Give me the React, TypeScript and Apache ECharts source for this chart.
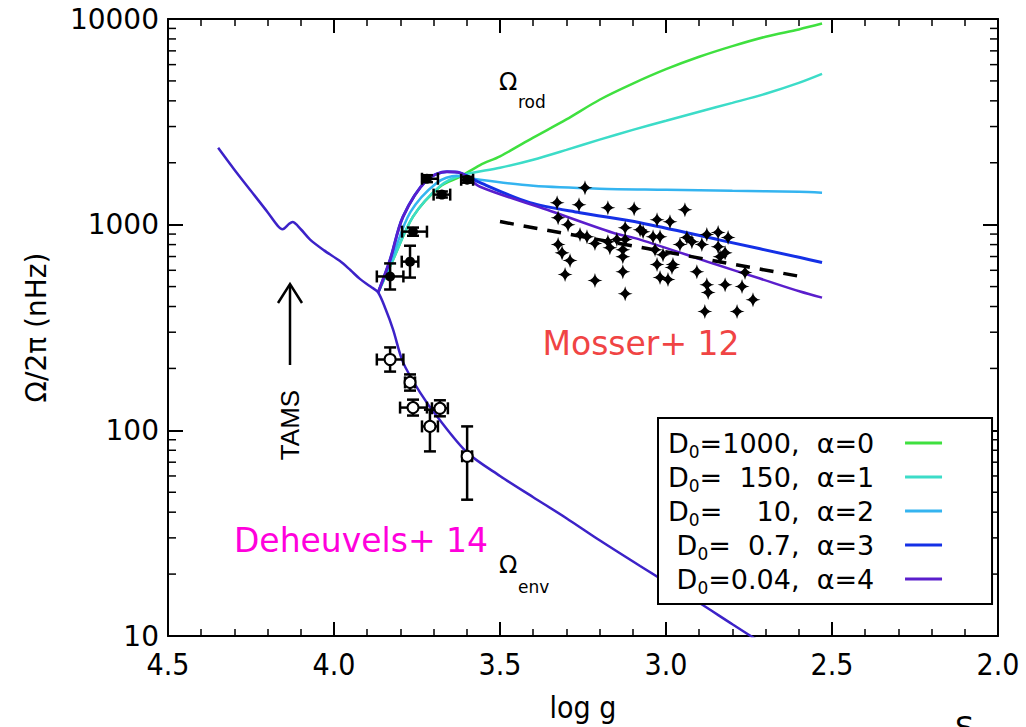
import React, { useEffect, useRef } from "react";
import * as echarts from "echarts";

// ---- rotation curves (log g, Omega/2pi in nHz) ----
const curveNames = [
  "D0=1000, α=0",
  "D0=150, α=1",
  "D0=10, α=2",
  "D0=0.7, α=3",
  "D0=0.04, α=4",
];
const pad = "\u00a0\u00a0\u00a0";
const legendLabels = [
  "D{s|0}=1000,\u00a0\u00a0α=0" + pad,
  "D{s|0}=\u00a0\u00a0150,\u00a0\u00a0α=1" + pad,
  "D{s|0}=\u00a0\u00a0\u00a0\u00a010,\u00a0\u00a0α=2" + pad,
  "D{s|0}=\u00a0\u00a00.7,\u00a0\u00a0α=3" + pad,
  "D{s|0}=0.04,\u00a0\u00a0α=4" + pad,
];
const curveColors = ["#3fe03f", "#3cdcc8", "#34b4f0", "#1430e6", "#5a1ecc"];

const greenG = [3.867, 3.822, 3.762, 3.681, 3.62, 3.56, 3.5, 3.4, 3.3, 3.2, 3.1, 3.0, 2.9, 2.8, 2.7, 2.6, 2.53];
const greenV = [468, 676, 1094, 1528, 1711, 1950, 2150, 2650, 3250, 4050, 4850, 5700, 6550, 7380, 8200, 8900, 9500];

const cyanG = [3.867, 3.822, 3.762, 3.681, 3.62, 3.5, 3.4, 3.3, 3.2, 3.1, 3.0, 2.9, 2.8, 2.7, 2.6, 2.53];
const cyanV = [468, 676, 1094, 1540, 1730, 1890, 2070, 2310, 2590, 2890, 3200, 3540, 3910, 4330, 4890, 5410];

const skyG = [3.867, 3.825, 3.77, 3.69, 3.63, 3.56, 3.4, 3.2, 3.0, 2.8, 2.6, 2.53];
const skyV = [468, 690, 1150, 1600, 1730, 1653, 1545, 1496, 1479, 1462, 1445, 1430];

const blueG = [3.867, 3.831, 3.792, 3.72, 3.66, 3.62, 3.56, 3.41, 3.259, 3.078, 2.837, 2.596, 2.53];
const blueV = [468, 676, 1094, 1653, 1807, 1786, 1600, 1279, 1143, 1022, 841, 692, 655];

const purpleG = [3.867, 3.831, 3.792, 3.72, 3.66, 3.62, 3.56, 3.358, 3.16, 3.078, 2.858, 2.717, 2.596, 2.53];
const purpleV = [468, 676, 1094, 1653, 1807, 1786, 1529, 1182, 914, 846, 647, 547, 473, 442];

// envelope rotation track
const envG = [4.349, 4.3, 4.253, 4.2, 4.17, 4.155, 4.135, 4.125, 4.1, 4.072, 4.03, 3.982, 3.95, 3.922, 3.89, 3.867, 3.845, 3.822, 3.792, 3.741, 3.69, 3.599, 3.5, 3.4, 3.3, 3.2, 3.078, 2.9, 2.8, 2.7];
const envV = [2365, 1850, 1479, 1150, 990, 950, 1010, 1030, 950, 846, 750, 665, 600, 545, 500, 468, 390, 309, 214, 153, 117, 78, 60, 47.3, 37.4, 29.2, 21.9, 14.5, 11.4, 9.0];

// Mosser+ 12 core rotation
const mosserG = [3.244, 3.328, 3.262, 3.175, 3.096, 3.325, 3.295, 3.123, 3.078, 3.259, 3.238, 3.214, 3.175, 3.148, 3.123, 3.325, 3.169, 3.313, 3.13, 3.289, 3.13, 3.304, 3.214, 3.13, 3.123, 2.943, 3.027, 2.988, 3.069, 3.039, 3.018, 2.937, 2.877, 2.843, 2.813, 2.922, 2.892, 2.843, 2.958, 3.033, 3.009, 2.822, 2.837, 3.027, 2.979, 2.982, 2.907, 2.762, 3.018, 2.994, 2.877, 2.822, 2.771, 2.873, 2.738, 2.883, 2.786];
const mosserV = [1512, 1279, 1251, 1209, 1196, 1081, 1000, 967, 946, 895, 874, 809, 827, 846, 846, 800, 773, 731, 756, 669, 699, 572, 535, 591, 462, 1182, 1057, 1034, 925, 874, 874, 865, 895, 915, 865, 827, 800, 782, 800, 756, 715, 731, 699, 640, 640, 619, 591, 585, 553, 541, 511, 511, 500, 468, 432, 378, 378];

// Mosser+ 12 trend
const trendG = [3.5, 2.596];
const trendV = [1035, 560];

// Deheuvels+ 14 core points: log g, value, log g left, log g right, low, high
const coreG = [3.831, 3.771, 3.762, 3.675, 3.72, 3.599];
const coreV = [560, 661, 925, 1400, 1672, 1653];
const coreGLeft = [3.871, 3.796, 3.795, 3.7, 3.735, 3.617];
const coreGRight = [3.791, 3.746, 3.72, 3.65, 3.687, 3.581];
const coreLow = [484, 553, 883, 1355, 1610, 1600];
const coreHigh = [648, 790, 968, 1450, 1740, 1710];

// Deheuvels+ 14 envelope points
const envPtG = [3.831, 3.771, 3.762, 3.681, 3.711, 3.599];
const envPtV = [221, 171, 129, 128, 104.5, 74.8];
const envPtGLeft = [3.871, 3.786, 3.801, 3.705, 3.735, 3.614];
const envPtGRight = [3.791, 3.756, 3.72, 3.657, 3.687, 3.584];
const envPtLow = [193, 156, 118, 117, 79, 46];
const envPtHigh = [253, 187, 141, 140, 126, 104.5];

// minor ticks of the logarithmic axis
const yMinorTicks = [20, 30, 40, 50, 60, 70, 80, 90, 200, 300, 400, 500, 600, 700, 800, 900, 2000, 3000, 4000, 5000, 6000, 7000, 8000, 9000];

const zip = (a: number[], b: number[]) => a.map((v, i) => [v, b[i]]);

const errorBarSeries = (
  g: number[], v: number[], gl: number[], gr: number[], lo: number[], hi: number[]
) => ({
  type: "custom",
  z: 4,
  clip: false,
  encode: { x: 0, y: 1 },
  data: g.map((x, i) => [x, v[i], gl[i], gr[i], lo[i], hi[i]]),
  renderItem: (_params: any, api: any) => {
    const x = api.value(0), y = api.value(1);
    const pL = api.coord([api.value(2), y]);
    const pR = api.coord([api.value(3), y]);
    const pB = api.coord([x, api.value(4)]);
    const pT = api.coord([x, api.value(5)]);
    const c = 6;
    const st = { stroke: "#000", lineWidth: 2.5 };
    const ln = (x1: number, y1: number, x2: number, y2: number) => ({
      type: "line", shape: { x1, y1, x2, y2 }, style: st,
    });
    return {
      type: "group",
      children: [
        ln(pL[0], pL[1], pR[0], pR[1]),
        ln(pL[0], pL[1] - c, pL[0], pL[1] + c),
        ln(pR[0], pR[1] - c, pR[0], pR[1] + c),
        ln(pB[0], pB[1], pT[0], pT[1]),
        ln(pB[0] - c, pB[1], pB[0] + c, pB[1]),
        ln(pT[0] - c, pT[1], pT[0] + c, pT[1]),
      ],
    };
  },
});

const starPath = "path://M0,-10 Q1.3,-1.3 10,0 Q1.3,1.3 0,10 Q-1.3,1.3 -10,0 Q-1.3,-1.3 0,-10 Z";

const tickFont = "'Liberation Sans Narrow', 'DejaVu Sans Condensed', 'Liberation Sans', sans-serif";
const labelFont = "'DejaVu Sans', sans-serif";

const curveData = [
  zip(greenG, greenV),
  zip(cyanG, cyanV),
  zip(skyG, skyV),
  zip(blueG, blueV),
  zip(purpleG, purpleV),
];

const xAxisBase = {
  type: "value",
  min: 2.0,
  max: 4.5,
  interval: 0.5,
  inverse: true,
  splitLine: { show: false },
  axisLine: { show: true, onZero: false, lineStyle: { color: "#000", width: 2 } },
  axisTick: { show: true, inside: true, length: 14, lineStyle: { color: "#000", width: 2 } },
  minorTick: { show: true, splitNumber: 5, length: 7, lineStyle: { color: "#000", width: 1.5 } },
};

const yAxisBase = {
  type: "log",
  logBase: 10,
  min: 10,
  max: 10000,
  splitLine: { show: false },
  axisLine: { show: true, onZero: false, lineStyle: { color: "#000", width: 2 } },
  axisTick: { show: true, inside: true, length: 15, lineStyle: { color: "#000", width: 2 } },
};

const option: any = {
  animation: false,
  backgroundColor: "#fff",
  grid: { left: 168, top: 19, width: 830, height: 619, containLabel: false },
  xAxis: [
    {
      ...xAxisBase,
      position: "bottom",
      name: "log g",
      nameLocation: "middle",
      nameGap: 56,
      nameTextStyle: { fontFamily: tickFont, fontSize: 30, color: "#000" },
      axisLabel: {
        fontFamily: tickFont, fontSize: 30, color: "#000", margin: 13,
        formatter: (v: number) => v.toFixed(1),
      },
    },
    { ...xAxisBase, position: "top", axisLabel: { show: false } },
  ],
  yAxis: [
    {
      ...yAxisBase,
      position: "left",
      name: "Ω/2π (nHz)",
      nameLocation: "middle",
      nameGap: 118,
      nameTextStyle: { fontFamily: labelFont, fontSize: 28, color: "#000" },
      axisLabel: {
        fontFamily: labelFont, fontSize: 28, color: "#000", margin: 9,
        formatter: (v: number) => String(Math.round(v)),
      },
    },
    { ...yAxisBase, position: "right", axisLabel: { show: false } },
  ],
  legend: {
    orient: "vertical",
    left: 658,
    top: 418,
    align: "right",
    selectedMode: false,
    backgroundColor: "#fff",
    borderColor: "#000",
    borderWidth: 2,
    borderRadius: 0,
    padding: [8, 50, 8, 10],
    itemGap: 0,
    itemWidth: 37,
    itemHeight: 3,
    icon: "rect",
    data: curveNames,
    formatter: (name: string) => legendLabels[curveNames.indexOf(name)],
    textStyle: {
      fontFamily: labelFont,
      fontSize: 27,
      color: "#000",
      lineHeight: 34,
      width: 232,
      rich: {
        s: { fontFamily: labelFont, fontSize: 17, lineHeight: 34, verticalAlign: "bottom", color: "#000" },
      },
    },
    z: 10,
  },
  graphic: [
    {
      type: "text", x: 290, y: 425, rotation: Math.PI / 2,
      style: { text: "TAMS", fontFamily: "'Liberation Sans', sans-serif", fontSize: 26, fill: "#000", align: "center", verticalAlign: "middle" },
    },
    { type: "line", shape: { x1: 290, y1: 365, x2: 290, y2: 285 }, style: { stroke: "#000", lineWidth: 2.5 } },
    { type: "polyline", shape: { points: [[278, 303], [290, 284], [302, 303]] }, style: { stroke: "#000", lineWidth: 2.5, fill: "none" } },
    {
      type: "text", x: 641, y: 343,
      style: { text: "Mosser+ 12", fontFamily: labelFont, fontSize: 33, fill: "#f04444", align: "center", verticalAlign: "middle" },
    },
    {
      type: "text", x: 361, y: 540,
      style: { text: "Deheuvels+ 14", fontFamily: labelFont, fontSize: 33, fill: "#ff00dc", align: "center", verticalAlign: "middle" },
    },
    { type: "text", x: 499, y: 82, style: { text: "Ω", fontFamily: labelFont, fontSize: 24, fill: "#000", verticalAlign: "middle" } },
    { type: "text", x: 518, y: 102, style: { text: "rod", fontFamily: labelFont, fontSize: 17, fill: "#000", verticalAlign: "middle" } },
    { type: "text", x: 499, y: 565, style: { text: "Ω", fontFamily: labelFont, fontSize: 24, fill: "#000", verticalAlign: "middle" } },
    { type: "text", x: 518, y: 587, style: { text: "env", fontFamily: labelFont, fontSize: 17, fill: "#000", verticalAlign: "middle" } },
    { type: "text", x: 955, y: 712, style: { text: "S", fontFamily: labelFont, fontSize: 30, fill: "#000", verticalAlign: "top" } },
  ],
  series: [
    ...curveNames.map((name, i) => ({
      name,
      type: "line",
      data: curveData[i],
      symbol: "none",
      smooth: 0.3,
      z: 2,
      lineStyle: { color: curveColors[i], width: i === 3 ? 3 : 2.5 },
      itemStyle: { color: curveColors[i] },
    })),
    {
      name: "envelope",
      type: "line",
      data: zip(envG, envV),
      symbol: "none",
      smooth: 0.3,
      z: 2,
      lineStyle: { color: "#3c22c8", width: 2.5 },
    },
    {
      name: "trend",
      type: "line",
      data: zip(trendG, trendV),
      symbol: "none",
      z: 3,
      lineStyle: { color: "#000", width: 3.5, type: [14, 10] },
    },
    {
      name: "Mosser+ 12",
      type: "scatter",
      data: zip(mosserG, mosserV),
      symbol: starPath,
      symbolSize: 15,
      z: 5,
      itemStyle: { color: "#000", opacity: 1 },
    },
    errorBarSeries(coreG, coreV, coreGLeft, coreGRight, coreLow, coreHigh),
    errorBarSeries(envPtG, envPtV, envPtGLeft, envPtGRight, envPtLow, envPtHigh),
    {
      name: "core points",
      type: "scatter",
      data: zip(coreG, coreV),
      symbol: "circle",
      symbolSize: 10,
      z: 6,
      itemStyle: { color: "#000", opacity: 1 },
    },
    {
      name: "envelope points",
      type: "scatter",
      data: zip(envPtG, envPtV),
      symbol: "circle",
      symbolSize: 11,
      z: 6,
      itemStyle: { color: "#fff", borderColor: "#000", borderWidth: 2, opacity: 1 },
    },
    {
      name: "minor ticks",
      type: "custom",
      silent: true,
      clip: false,
      z: 1,
      encode: { x: 0, y: 1 },
      data: yMinorTicks.map((v) => [3.0, v]),
      renderItem: (params: any, api: any) => {
        const cs = params.coordSys;
        const y = api.coord([3.0, api.value(1)])[1];
        const st = { stroke: "#000", lineWidth: 1.5 };
        return {
          type: "group",
          children: [
            { type: "line", shape: { x1: cs.x, y1: y, x2: cs.x + 8, y2: y }, style: st },
            { type: "line", shape: { x1: cs.x + cs.width - 8, y1: y, x2: cs.x + cs.width, y2: y }, style: st },
          ],
        };
      },
    },
  ],
};

export default function App() {
  const ref = useRef<HTMLDivElement>(null);
  useEffect(() => {
    document.body.style.margin = "0";
    const chart = echarts.init(ref.current!, null, { renderer: "svg" });
    chart.setOption(option);
    return () => chart.dispose();
  }, []);
  return <div ref={ref} style={{ width: 1026, height: 727 }} />;
}
